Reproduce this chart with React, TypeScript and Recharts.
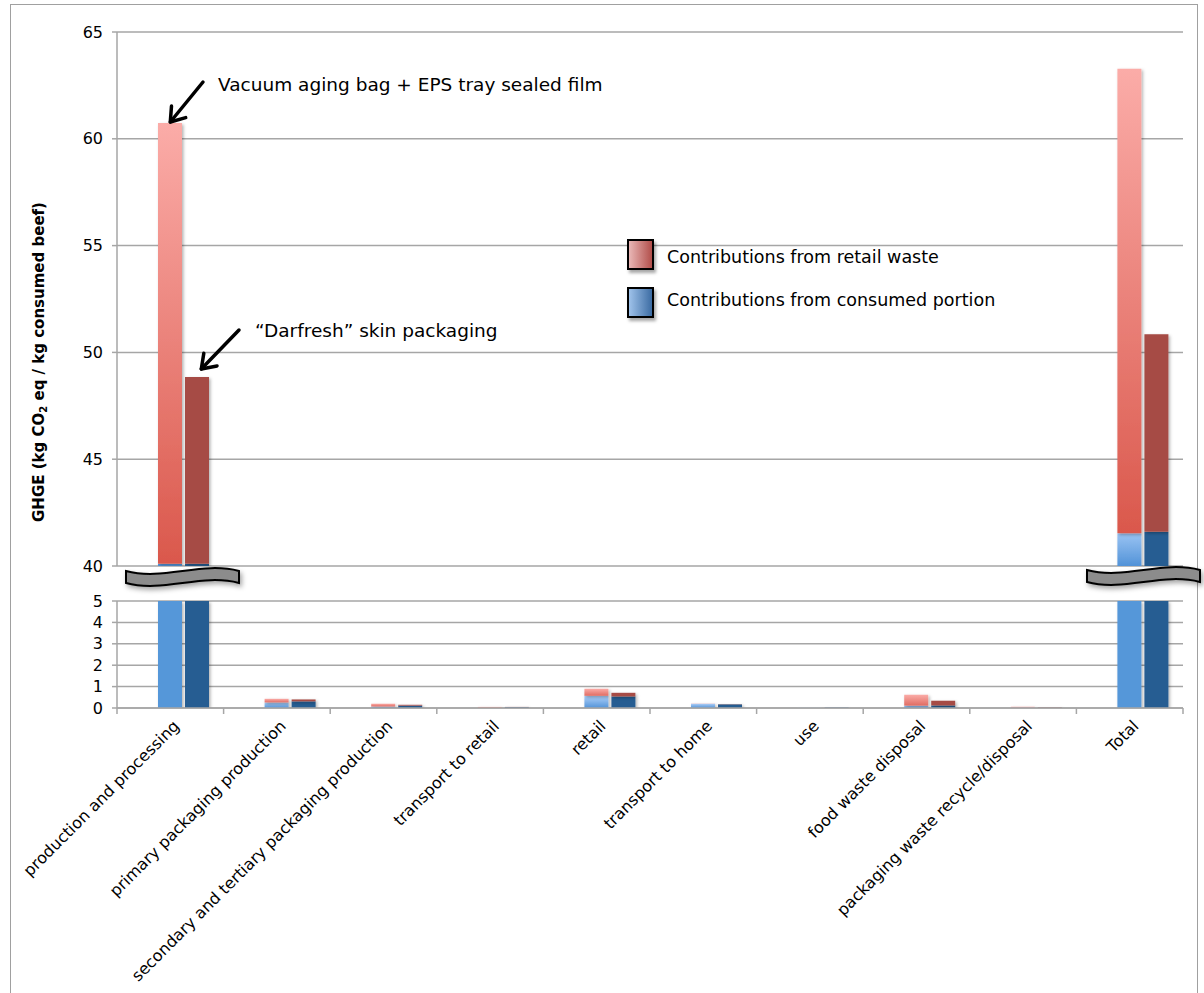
import React from 'react';
import { BarChart, Bar, XAxis, YAxis, CartesianGrid, Cell } from 'recharts';

// GHGE per kg of consumed beef, by life-cycle stage, for two packaging systems
const categories = [
  'production and processing',
  'primary packaging production',
  'secondary and tertiary packaging production',
  'transport to retail',
  'retail',
  'transport to home',
  'use',
  'food waste disposal',
  'packaging waste recycle/disposal',
  'Total',
];

// Vacuum aging bag + EPS tray sealed film
const vacuumConsumed = [40.1, 0.26, 0.07, 0.01, 0.57, 0.2, 0.01, 0.11, 0.02, 41.53];
const vacuumWaste = [20.64, 0.17, 0.13, 0.04, 0.33, 0.01, 0, 0.51, 0.04, 21.75];

// "Darfresh" skin packaging
const darfreshConsumed = [40.1, 0.31, 0.11, 0.04, 0.54, 0.17, 0.02, 0.12, 0.01, 41.6];
const darfreshWaste = [8.75, 0.09, 0.04, 0.01, 0.17, 0.01, 0, 0.22, 0.02, 9.25];

const upperTicks = [40, 45, 50, 55, 60, 65];
const lowerTicks = [0, 1, 2, 3, 4, 5];

const data = categories.map((name, i) => ({
  name,
  spacer: 0,
  vacCons: vacuumConsumed[i],
  vacWaste: vacuumWaste[i],
  darCons: darfreshConsumed[i],
  darWaste: darfreshWaste[i],
}));

const FONT = 'DejaVu Sans';
const GRID = '#a6a6a6';
const PLOT_LEFT = 117;
const PLOT_RIGHT = 1183;
const AXIS_W = 60;
const BAND = (PLOT_RIGHT - PLOT_LEFT) / categories.length;

const UPPER_TOP = 32;
const UPPER_BOTTOM = 566;
const upperY = (v: number) =>
  UPPER_TOP + ((65 - v) * (UPPER_BOTTOM - UPPER_TOP)) / 25;

const DARK_RED = '#a64b45';
const DARK_BLUE = '#275d92';
const MID_BLUE = '#5597d9';

const axisProps = {
  width: AXIS_W,
  type: 'number' as const,
  allowDataOverflow: true,
  interval: 0 as const,
  tickSize: 5,
  tickMargin: 9,
  tick: { fontSize: 16, fill: '#000', fontFamily: FONT },
  axisLine: { stroke: GRID, strokeWidth: 1.5 },
  tickLine: { stroke: GRID, strokeWidth: 1.5 },
};

function CategoryTick(props: any) {
  const { x, y, payload, index } = props;
  const last = index === categories.length - 1;
  const tx = x + 10;
  const ty = y + 19;
  return (
    <g>
      <line x1={x - BAND / 2} x2={x - BAND / 2} y1={y} y2={y + 6} stroke={GRID} strokeWidth={1.5} />
      {last && (
        <line x1={x + BAND / 2} x2={x + BAND / 2} y1={y} y2={y + 6} stroke={GRID} strokeWidth={1.5} />
      )}
      <text
        x={tx}
        y={ty}
        transform={`rotate(-45 ${tx} ${ty})`}
        textAnchor="end"
        fontSize={16}
        fontFamily={FONT}
        fill="#000"
      >
        {payload.value}
      </text>
    </g>
  );
}

function Shadow({ id }: { id: string }) {
  return (
    <filter id={id} filterUnits="userSpaceOnUse" x={0} y={0} width={1204} height={1000}>
      <feDropShadow dx={1.5} dy={1.5} stdDeviation={1.5} floodColor="#000" floodOpacity={0.3} />
    </filter>
  );
}

// the lower panel cuts the tall bars at 5, so those get a flat fill
function bars(prefix: string, lower: boolean) {
  return [
    <Bar key="sp" dataKey="spacer" stackId="s" barSize={24} fill="none" isAnimationActive={false} />,
    <Bar key="vc" dataKey="vacCons" stackId="v" barSize={24} fill={`url(#${prefix}Cons)`} filter={`url(#${prefix}Shadow)`} isAnimationActive={false}>
      {data.map((d, i) => (
        <Cell key={i} fill={lower && d.vacCons > 5 ? MID_BLUE : `url(#${prefix}Cons)`} />
      ))}
    </Bar>,
    <Bar key="vw" dataKey="vacWaste" stackId="v" barSize={24} fill={`url(#${prefix}Waste)`} filter={`url(#${prefix}Shadow)`} isAnimationActive={false} />,
    <Bar key="dc" dataKey="darCons" stackId="d" barSize={24} fill={DARK_BLUE} filter={`url(#${prefix}Shadow)`} isAnimationActive={false} />,
    <Bar key="dw" dataKey="darWaste" stackId="d" barSize={24} fill={DARK_RED} filter={`url(#${prefix}Shadow)`} isAnimationActive={false} />,
  ];
}

function WaveBreak({ x, y, w }: { x: number; y: number; w: number }) {
  const t = 12;
  const d = `M${x},${y} C${x + w / 3},${y + 10} ${x + (2 * w) / 3},${y - 10} ${x + w},${y}
    L${x + w},${y + t} C${x + (2 * w) / 3},${y + t - 10} ${x + w / 3},${y + t + 10} ${x},${y + t} Z`;
  return <path d={d} fill="#8c8c8c" stroke="#000" strokeWidth={2} filter="url(#waveShadow)" />;
}

function Arrow({ x1, y1, x2, y2 }: { x1: number; y1: number; x2: number; y2: number }) {
  const len = Math.hypot(x2 - x1, y2 - y1);
  const ux = (x2 - x1) / len;
  const uy = (y2 - y1) / len;
  const head = 16;
  const a = (35 * Math.PI) / 180;
  const wing = (s: number) => {
    const rx = ux * Math.cos(s * a) - uy * Math.sin(s * a);
    const ry = ux * Math.sin(s * a) + uy * Math.cos(s * a);
    return `${x2 - head * rx},${y2 - head * ry}`;
  };
  return (
    <g stroke="#000" strokeWidth={3.5} fill="none" strokeLinecap="round" strokeLinejoin="round">
      <line x1={x1} y1={y1} x2={x2} y2={y2} />
      <polyline points={`${wing(1)} ${x2},${y2} ${wing(-1)}`} />
    </g>
  );
}

function LegendRow({ top, textMid, from, to, label }: { top: number; textMid: number; from: string; to: string; label: string }) {
  return (
    <>
      <div
        style={{
          position: 'absolute',
          left: 627,
          top,
          width: 27,
          height: 31,
          boxSizing: 'border-box',
          border: '2px solid #000',
          background: `linear-gradient(to right, ${from}, ${to})`,
          boxShadow: '2px 3px 3px rgba(0,0,0,0.35)',
        }}
      />
      <div
        style={{
          position: 'absolute',
          left: 667,
          top: textMid - 11,
          fontSize: 17.5,
          lineHeight: '22px',
          fontFamily: FONT,
          color: '#000',
          whiteSpace: 'nowrap',
        }}
      >
        {label}
      </div>
    </>
  );
}

export default function App() {
  const lightCenter = PLOT_LEFT + BAND / 2;
  const darkCenter = lightCenter + 27;
  return (
    <div
      style={{
        position: 'absolute',
        left: 0,
        top: 0,
        width: 1204,
        height: 993,
        background: '#fff',
        overflow: 'hidden',
        fontFamily: FONT,
      }}
    >
      <div
        style={{
          position: 'absolute',
          left: 10,
          top: 4,
          width: 1186,
          height: 1010,
          border: '1px solid #a0a0a0',
        }}
      />

      {/* upper panel, 40 to 65 */}
      <div style={{ position: 'absolute', left: 0, top: 0 }}>
        <BarChart
          width={1204}
          height={600}
          data={data}
          barGap={3}
          margin={{ top: UPPER_TOP, right: 1204 - PLOT_RIGHT, bottom: 600 - UPPER_BOTTOM, left: PLOT_LEFT - AXIS_W }}
        >
          <defs>
            <linearGradient id="upCons" gradientUnits="userSpaceOnUse" x1={0} x2={0} y1={upperY(42)} y2={upperY(40)}>
              <stop offset="0" stopColor="#b0d2fb" />
              <stop offset="1" stopColor="#5293d8" />
            </linearGradient>
            <linearGradient id="upWaste" x1="0" x2="0" y1="0" y2="1">
              <stop offset="0" stopColor="#fbaca8" />
              <stop offset="1" stopColor="#da584c" />
            </linearGradient>
            <Shadow id="upShadow" />
          </defs>
          <CartesianGrid vertical={false} stroke={GRID} strokeWidth={1.5} />
          <XAxis dataKey="name" hide />
          <YAxis {...axisProps} domain={[40, 65]} ticks={upperTicks} />
          {bars('up', false)}
        </BarChart>
      </div>

      {/* lower panel, 0 to 5 */}
      <div style={{ position: 'absolute', left: 0, top: 560 }}>
        <BarChart
          width={1204}
          height={433}
          data={data}
          barGap={3}
          margin={{ top: 41, right: 1204 - PLOT_RIGHT, bottom: 0, left: PLOT_LEFT - AXIS_W }}
        >
          <defs>
            <linearGradient id="loCons" x1="0" x2="0" y1="0" y2="1">
              <stop offset="0" stopColor="#b0d2fb" />
              <stop offset="1" stopColor="#5293d8" />
            </linearGradient>
            <linearGradient id="loWaste" x1="0" x2="0" y1="0" y2="1">
              <stop offset="0" stopColor="#fbaca8" />
              <stop offset="1" stopColor="#e06c62" />
            </linearGradient>
            <Shadow id="loShadow" />
          </defs>
          <CartesianGrid vertical={false} stroke={GRID} strokeWidth={1.5} />
          <XAxis
            dataKey="name"
            interval={0}
            height={285}
            tickSize={0}
            tickMargin={0}
            tickLine={false}
            axisLine={{ stroke: GRID, strokeWidth: 1.5 }}
            tick={<CategoryTick />}
          />
          <YAxis {...axisProps} domain={[0, 5]} ticks={lowerTicks} />
          {bars('lo', true)}
        </BarChart>
      </div>

      <svg width={1204} height={993} style={{ position: 'absolute', left: 0, top: 0, pointerEvents: 'none' }}>
        <defs>
          <filter id="waveShadow" x="-10%" y="-50%" width="130%" height="250%">
            <feDropShadow dx={2} dy={3} stdDeviation={2.5} floodColor="#000" floodOpacity={0.35} />
          </filter>
        </defs>
        <WaveBreak x={126} y={571} w={113} />
        <WaveBreak x={1087} y={570} w={113} />

        <text
          x={44}
          y={362}
          transform="rotate(-90 44 362)"
          textAnchor="middle"
          fontSize={15}
          fontWeight="bold"
          fontFamily={FONT}
          fill="#000"
        >
          GHGE (kg CO
          <tspan fontSize={10} dy={3}>2</tspan>
          <tspan dy={-3}> eq / kg consumed beef)</tspan>
        </text>

        <Arrow x1={203} y1={82} x2={lightCenter} y2={upperY(vacuumConsumed[0] + vacuumWaste[0]) - 1} />
        <text x={218} y={91} fontSize={18.5} fontFamily={FONT} fill="#000">
          Vacuum aging bag + EPS tray sealed film
        </text>

        <Arrow x1={239} y1={330} x2={darkCenter + 4} y2={upperY(darfreshConsumed[0] + darfreshWaste[0]) - 8} />
        <text x={255} y={337} fontSize={18.5} fontFamily={FONT} fill="#000">
          “Darfresh” skin packaging
        </text>
      </svg>

      <LegendRow top={239} textMid={257} from="#e9b7b6" to="#b24f4b" label="Contributions from retail waste" />
      <LegendRow top={287} textMid={300} from="#9fc2ea" to="#3c6ca3" label="Contributions from consumed portion" />
    </div>
  );
}
